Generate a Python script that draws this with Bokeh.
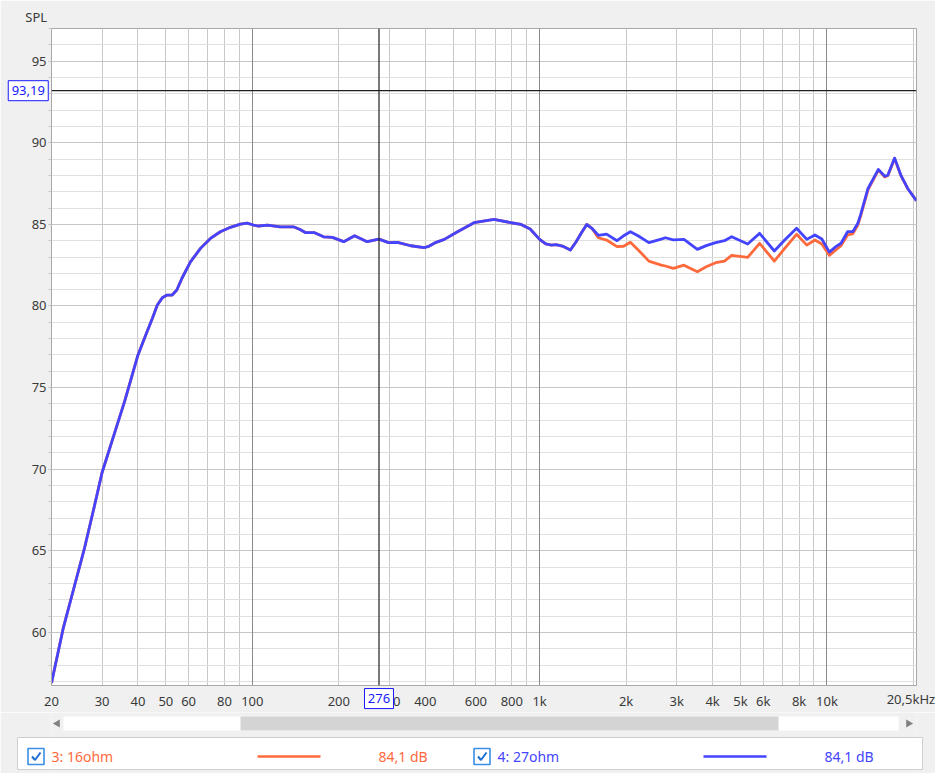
from bokeh.plotting import figure
from bokeh.models import Range1d, FixedTicker, SingleIntervalTicker, Grid, Span
from bokeh.layouts import column
from bokeh.embed import file_html
from bokeh.resources import INLINE
from bokeh.core.properties import value

FONT = "Noto Sans"

# ---------------- data ----------------
freq_hz = [20, 22, 24, 26, 28, 30, 33, 36, 40, 42.8, 44.9, 46.7, 48.6, 50.5, 52.6, 54.6, 56.9,
           60.9, 66, 71.5, 77.4, 83.9, 90.9, 95.8, 101, 105, 113, 125, 139, 146, 153, 164, 177,
           190, 208, 227, 251, 276, 298, 320, 356, 396, 413, 436, 466, 518, 591, 694, 795, 862,
           927, 1000, 1050, 1100, 1140, 1200, 1280, 1340, 1400, 1460, 1520, 1600, 1710, 1860,
           1960, 2070, 2200, 2400, 2650, 2740, 2920, 3180, 3540, 3800, 4100, 4400, 4660, 5300,
           5830, 6560, 7130, 7840, 8510, 9080, 9600, 10200, 10740, 11200, 11800, 12300, 12800,
           13100, 13900, 15100, 15900, 16300, 17200, 18100, 19100, 20300, 20500]

spl_27ohm = [56.9, 60.3, 62.8, 65.1, 67.5, 69.8, 72.1, 74.2, 77.0, 78.33, 79.25, 80.06, 80.5,
             80.67, 80.67, 80.98, 81.7, 82.7, 83.53, 84.14, 84.55, 84.82, 85.02, 85.08, 84.96,
             84.9, 84.96, 84.85, 84.85, 84.7, 84.5, 84.5, 84.24, 84.2, 83.94, 84.3, 83.94, 84.1,
             83.88, 83.9, 83.69, 83.57, 83.67, 83.9, 84.08, 84.55, 85.1, 85.31, 85.1, 85.0,
             84.72, 84.08, 83.8, 83.73, 83.76, 83.67, 83.43, 83.94, 84.5, 85.0, 84.76, 84.33,
             84.4, 84.0, 84.3, 84.55, 84.3, 83.88, 84.1, 84.18, 84.05, 84.08, 83.47, 83.7,
             83.88, 84.0, 84.24, 83.8, 84.45, 83.37, 84.04, 84.76, 84.08, 84.35, 84.1, 83.3,
             83.64, 83.84, 84.55, 84.55, 85.05, 85.6, 87.2, 88.37, 87.95, 88.02, 89.06, 88.0,
             87.2, 86.55, 86.45]

spl_16ohm = [56.9, 60.3, 62.8, 65.1, 67.5, 69.8, 72.1, 74.2, 77.0, 78.33, 79.25, 80.06, 80.5,
             80.67, 80.67, 80.98, 81.7, 82.7, 83.53, 84.14, 84.55, 84.82, 85.02, 85.08, 84.96,
             84.9, 84.96, 84.85, 84.85, 84.7, 84.5, 84.5, 84.24, 84.2, 83.94, 84.3, 83.94, 84.1,
             83.88, 83.9, 83.69, 83.57, 83.67, 83.9, 84.08, 84.55, 85.1, 85.31, 85.1, 85.0,
             84.72, 84.08, 83.8, 83.73, 83.76, 83.67, 83.43, 83.94, 84.5, 85.0, 84.76, 84.18,
             84.04, 83.64, 83.66, 83.9, 83.45, 82.75, 82.5, 82.45, 82.3, 82.5, 82.1, 82.4,
             82.65, 82.75, 83.1, 82.98, 83.84, 82.75, 83.53, 84.39, 83.73, 84.04, 83.8, 83.1,
             83.44, 83.7, 84.35, 84.42, 84.95, 85.5, 87.12, 88.33, 87.9, 88.0, 89.02, 87.98,
             87.2, 86.55, 86.45]

series_names = ["3: 16ohm", "4: 27ohm"]
series_values = ["84,1 dB", "84,1 dB"]
series_colors = ["#ff6a3d", "#4444ff"]

x_tick_values = [20, 30, 40, 50, 60, 80, 100, 200, 300, 400, 600, 800,
                 1000, 2000, 3000, 4000, 5000, 6000, 8000, 10000]
x_tick_labels = ["20", "30", "40", "50", "60", "80", "100", "200", "300", "400", "600", "800",
                 "1k", "2k", "3k", "4k", "5k", "6k", "8k", "10k"]
x_end_label = "20,5kHz"
y_title = "SPL"
cursor_freq = 276
cursor_freq_label = "276"
cursor_spl = 93.19
cursor_spl_label = "93,19"

X_MIN, X_MAX = 20, 20500
Y_MIN, Y_MAX = 56.75, 97.0

BLUE_UI = "#1a1aff"
TXT = "#3a3a3a"

# ---------------- main plot ----------------
p = figure(width=935, height=712, x_axis_type="log",
           x_range=Range1d(X_MIN, X_MAX), y_range=Range1d(Y_MIN, Y_MAX),
           output_backend="svg", toolbar_location=None,
           min_border_left=51, min_border_right=19, min_border_top=28, min_border_bottom=26,
           background_fill_color="white", border_fill_color="#f0f0f0",
           outline_line_color="#a8a8a8")

xa = p.xaxis[0]
xa.ticker = FixedTicker(ticks=x_tick_values, minor_ticks=[])
xa.major_label_overrides = {v: l for v, l in zip(x_tick_values, x_tick_labels)}
xa.major_tick_out = 0
xa.major_tick_in = 0
xa.minor_tick_out = 0
xa.minor_tick_in = 0
xa.major_label_standoff = 6
xa.axis_line_color = "#a8a8a8"

ya = p.yaxis[0]
ya.ticker = SingleIntervalTicker(interval=5, num_minor_ticks=5)
ya.major_tick_out = 3
ya.major_tick_in = 0
ya.minor_tick_out = 3
ya.minor_tick_in = 0
ya.major_tick_line_color = "#b0b0b0"
ya.minor_tick_line_color = "#c8c8c8"
ya.major_label_standoff = 2
ya.axis_line_color = "#a8a8a8"

for ax in (xa, ya):
    ax.major_label_text_font = FONT
    ax.major_label_text_font_size = "13px"
    ax.major_label_text_color = TXT

grid_lines = [m * 10 ** e for e in (1, 2, 3, 4) for m in range(1, 10) if X_MIN <= m * 10 ** e <= X_MAX]
p.xgrid.ticker = FixedTicker(ticks=grid_lines, minor_ticks=[])
p.xgrid.grid_line_color = "#c8c8c8"
p.ygrid.grid_line_color = "#c6c6c6"
p.ygrid.minor_grid_line_color = "#e0e0e0"
p.add_layout(Grid(dimension=0, ticker=FixedTicker(ticks=[100, 1000, 10000]),
                  grid_line_color="#8a8a8a"))

p.line(freq_hz, spl_16ohm, line_color=series_colors[0], line_width=2.8, line_join="round")
p.line(freq_hz, spl_27ohm, line_color=series_colors[1], line_width=2.8, line_join="round")

p.add_layout(Span(location=cursor_freq, dimension="height", line_color="#202020", line_width=1.2))
p.add_layout(Span(location=cursor_spl, dimension="width", line_color="#202020", line_width=1.2))

# texts outside the frame: glyphs on the overlay level
p.text(x=[17.7], y=[97.73], text=[y_title], text_align="center", text_baseline="middle",
       text_font=value(FONT), text_font_size=value("13px"), text_color=TXT, level="overlay")

p.rect(x=[16.6], y=[cursor_spl], width=40, height=20, width_units="screen",
       height_units="screen", fill_color="white", line_color=BLUE_UI, line_width=1,
       level="overlay")
p.text(x=[16.6], y=[cursor_spl], text=[cursor_spl_label], text_align="center",
       text_baseline="middle", text_font=value(FONT), text_font_size=value("13px"),
       text_color=BLUE_UI, level="overlay")

p.rect(x=[cursor_freq], y=[55.95], width=29, height=20, width_units="screen",
       height_units="screen", fill_color="white", line_color=BLUE_UI, line_width=1,
       level="overlay")
p.text(x=[cursor_freq], y=[55.95], text=[cursor_freq_label], text_align="center",
       text_baseline="middle", text_font=value(FONT), text_font_size=value("13px"),
       text_color=BLUE_UI, level="overlay")

p.text(x=[23800], y=[55.95], text=[x_end_label], text_align="right",
       text_baseline="middle", text_font=value(FONT), text_font_size=value("13px"),
       text_color=TXT, level="overlay")

# ---------------- scrollbar + legend strip ----------------
# the column layout aligns this strip's frame with the main frame (x 51..916),
# so its x range uses the same pixel columns and its marks sit on the overlay level
q = figure(width=935, height=61, x_range=Range1d(51, 916), y_range=Range1d(61, 0),
           output_backend="svg", toolbar_location=None, min_border=0,
           x_axis_location=None, y_axis_location=None,
           background_fill_color="#f0f0f0", border_fill_color="#f0f0f0",
           outline_line_color=None)
q.grid.visible = False

OV = dict(level="overlay")
q.quad(left=[63], right=[898], top=[4], bottom=[18], fill_color="white", line_color=None, **OV)
q.quad(left=[240], right=[778], top=[4], bottom=[18], fill_color="#d4d4d4", line_color=None, **OV)
q.scatter(x=[57], y=[11], marker="triangle", size=8, angle=1.5708,
          fill_color="#808080", line_color=None, **OV)
q.scatter(x=[908], y=[11], marker="triangle", size=8, angle=-1.5708,
          fill_color="#808080", line_color=None, **OV)

q.quad(left=[17], right=[922], top=[25], bottom=[57], fill_color="white",
       line_color="#cfcfcf", line_width=1, **OV)

ly = 44
check_x = [35.5, 481.5]
name_x = [51, 497]
seg_x = [(257, 320), (703, 766)]
val_x = [378, 824]
for i in range(2):
    cx = check_x[i]
    q.rect(x=[cx], y=[ly], width=16, height=16, fill_color="white",
           line_color="#3a8ee6", line_width=1.6, **OV)
    q.line([cx - 4, cx - 1, cx + 4.5], [ly, ly + 3.5, ly - 4], line_color="#1c6fd6",
           line_width=2, **OV)
    q.text(x=[name_x[i]], y=[ly], text=[series_names[i]], text_color=series_colors[i],
           text_baseline="middle", text_align="left",
           text_font=value(FONT), text_font_size=value("14px"), **OV)
    q.segment(x0=[seg_x[i][0]], x1=[seg_x[i][1]], y0=[ly], y1=[ly],
              line_color=series_colors[i], line_width=2.5, **OV)
    q.text(x=[val_x[i]], y=[ly], text=[series_values[i]], text_color=series_colors[i],
           text_baseline="middle", text_align="left",
           text_font=value(FONT), text_font_size=value("14px"), **OV)

layout = column(p, q, spacing=0)
open("out.html", "w").write(file_html(layout, INLINE))
